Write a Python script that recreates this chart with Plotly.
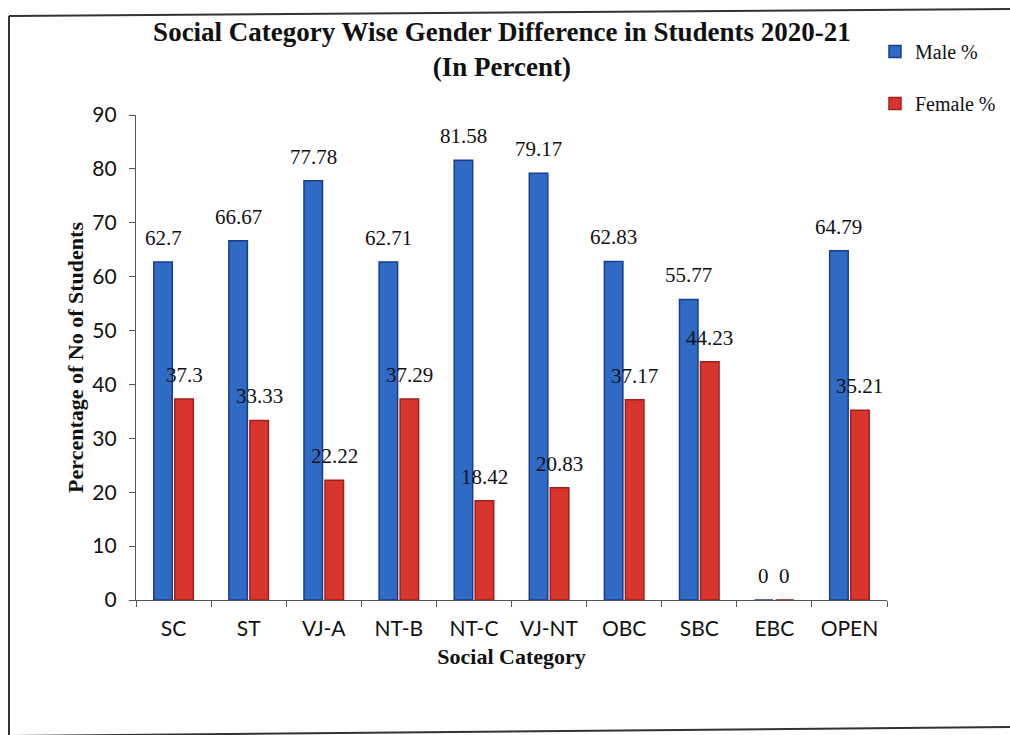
import plotly.graph_objects as go

categories = ["SC", "ST", "VJ-A", "NT-B", "NT-C", "VJ-NT", "OBC", "SBC", "EBC", "OPEN"]
male_pct = [62.7, 66.67, 77.78, 62.71, 81.58, 79.17, 62.83, 55.77, 0, 64.79]
female_pct = [37.3, 33.33, 22.22, 37.29, 18.42, 20.83, 37.17, 44.23, 0, 35.21]
y_ticks = [0, 10, 20, 30, 40, 50, 60, 70, 80, 90]

BLUE = "#2f6bc4"
BLUE_EDGE = "#1b3c8c"
RED = "#d8352d"
RED_EDGE = "#a11f1b"
SERIF = "Liberation Serif, Times New Roman, serif"
SANS = "Lato, Open Sans, sans-serif"

fig = go.Figure()
fig.add_trace(go.Bar(
    x=categories, y=male_pct, name="Male %", legendgroup="m",
    marker=dict(color=BLUE, line=dict(color=BLUE_EDGE, width=1.5)),
    cliponaxis=False,
))
fig.add_trace(go.Bar(
    x=categories, y=female_pct, name="Female %", legendgroup="f",
    marker=dict(color=RED, line=dict(color=RED_EDGE, width=1.5)),
    cliponaxis=False,
))

# value labels above each bar
def fmt(v):
    return f"{v:g}"

for series, shift in ((male_pct, -10.5), (female_pct, 10.5)):
    for c, v in zip(categories, series):
        fig.add_annotation(
            x=c, y=v, xref="x", yref="y", text=fmt(v),
            showarrow=False, xanchor="center", yanchor="bottom",
            xshift=shift, yshift=10,
            font=dict(family=SERIF, size=21, color="#111111"),
        )

# scanned page frame
frame = dict(color="#333333", width=2)
fig.add_shape(type="line", xref="paper", yref="paper",
              x0=(9 - 136) / 751, x1=(1012 - 136) / 751,
              y0=(600 - 16) / 485, y1=(600 - 9) / 485, line=frame)
fig.add_shape(type="line", xref="paper", yref="paper",
              x0=(9 - 136) / 751, x1=(9 - 136) / 751,
              y0=(600 - 16) / 485, y1=(600 - 740) / 485, line=frame)
fig.add_shape(type="line", xref="paper", yref="paper",
              x0=(9 - 136) / 751, x1=(1012 - 136) / 751,
              y0=(600 - 736) / 485, y1=(600 - 727) / 485, line=frame)

fig.update_layout(
    width=1010, height=735,
    margin=dict(l=136, r=123, t=115, b=135, autoexpand=False),
    paper_bgcolor="white", plot_bgcolor="white",
    barmode="group", bargap=0.44, bargroupgap=0.12,
    title=dict(
        text="Social Category Wise Gender Difference in Students 2020-21<br>(In Percent)",
        x=0.497, xref="container", xanchor="center",
        y=1 - 41 / 735, yref="container", yanchor="top",
        font=dict(family=SERIF, size=27, color="#111111", weight="bold"),
    ),
    legend=dict(
        x=(875 - 136) / 751, xanchor="left",
        y=(600 - 32) / 485, yanchor="top",
        traceorder="grouped", tracegroupgap=23,
        font=dict(family=SERIF, size=20, color="#111111"),
        itemwidth=30, bgcolor="rgba(0,0,0,0)",
    ),
    xaxis=dict(
        type="category", categoryorder="array", categoryarray=categories,
        showline=True, linecolor="#555555", linewidth=1.2,
        ticks="outside", tickson="boundaries", ticklen=6, tickcolor="#555555",
        ticklabelstandoff=10,
        tickfont=dict(family=SANS, size=21, color="#111111"),
        title=dict(text="Social Category", standoff=9,
                   font=dict(family=SERIF, size=22, color="#111111", weight="bold")),
        showgrid=False, zeroline=False,
    ),
    yaxis=dict(
        range=[0, 90], tickvals=y_ticks,
        showline=True, linecolor="#555555", linewidth=1.2,
        ticks="outside", ticklen=6, tickcolor="#555555",
        ticklabelstandoff=8,
        tickfont=dict(family=SANS, size=21, color="#111111"),
        title=dict(text="Percentage of No of Students", standoff=2,
                   font=dict(family=SERIF, size=22, color="#111111", weight="bold")),
        showgrid=False, zeroline=False,
    ),
)

fig.write_html("out.html")
